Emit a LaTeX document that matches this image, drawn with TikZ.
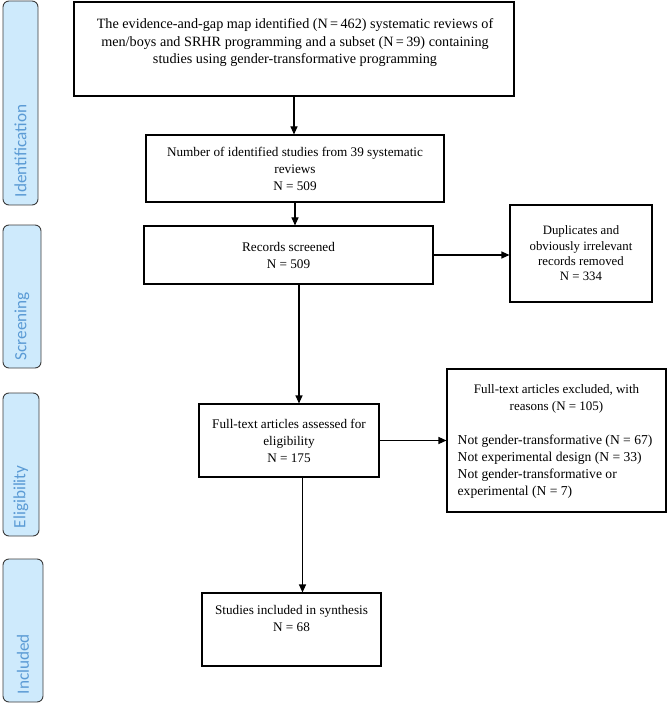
\documentclass[tikz,border=0pt]{standalone}
\usepackage{fontspec}
\setmainfont{Liberation Serif}
\newfontfamily\sidefont{Carlito}
\usetikzlibrary{arrows.meta,calc}
\definecolor{sidefill}{RGB}{206,234,252}
\definecolor{sidetext}{RGB}{91,155,213}
\definecolor{sideline}{RGB}{60,60,60}
\begin{document}
\begin{tikzpicture}[x=1pt,y=-1pt,
  box/.style={draw=black, line width=1.1pt, rectangle, inner sep=0pt, align=center,
    font=\rmfamily\fontsize{13.2}{17}\selectfont},
  txt/.style={inner sep=0pt, font=\rmfamily\fontsize{13.2}{17}\selectfont},
  side/.style={draw=sideline, fill=sidefill, rounded corners=6pt, line width=0.9pt, rectangle, inner sep=0pt},
  sidelabel/.style={rotate=90, anchor=west, text=sidetext, inner sep=0pt,
    font=\sidefont\fontsize{17.2}{18}\selectfont},
  arr/.style={line width=1.1pt, -{Triangle[length=8pt,width=7pt]}}]
\useasboundingbox (0,0) rectangle (669,703);

% side bars
\node[side, minimum width=35pt, minimum height=204pt] (sid) at (20.5,103) {};
\node[side, minimum width=38pt, minimum height=143pt] (ssc) at (22,296.5) {};
\node[side, minimum width=36pt, minimum height=143pt] (sel) at (21,464.5) {};
\node[side, minimum width=40pt, minimum height=143pt] (sin) at (23,630.5) {};
\node[sidelabel] (lid) at ([yshift=8pt]sid.south) {Identification};
\node[sidelabel] (lsc) at ([yshift=8pt]ssc.south) {Screening};
\node[sidelabel] (lel) at ([yshift=8pt]sel.south) {Eligibility};
\node[sidelabel] (lin) at ([yshift=8pt]sin.south) {Included};

% boxes
\node[box, minimum width=440pt, minimum height=94pt] (b1) at (294,49) {};
\node[txt, align=center, font=\rmfamily\fontsize{14.2}{17.5}\selectfont] (t1) at (295,43)
{The evidence-and-gap map identified (N\,=\,462) systematic reviews of\\
men/boys and SRHR programming and a subset (N\,=\,39) containing\\
studies using gender-transformative programming};

\node[box, minimum width=298pt, minimum height=67pt] (b2) at (295,168.5)
  {Number of identified studies from 39 systematic\\ reviews\\ N = 509};
\node[box, minimum width=289pt, minimum height=58pt] (b3) at (288.5,255)
  {Records screened\\ N = 509};
\node[box, minimum width=142pt, minimum height=97pt, font=\rmfamily\fontsize{12.8}{15.3}\selectfont] (dup) at (581,253.5)
  {Duplicates and\\ obviously irrelevant\\ records removed\\ N = 334};
\node[box, minimum width=180pt, minimum height=73pt] (b5) at (289,440.5)
  {Full-text articles assessed for\\ eligibility\\ N = 175};
\node[box, minimum width=219pt, minimum height=143pt] (exc) at (556.5,440.5) {};
\node[txt, align=center, font=\rmfamily\fontsize{13}{17}\selectfont] (et) at (556.5,398.5)
  {Full-text articles excluded, with\\ reasons (N = 105)};
\node[txt, align=left, anchor=west, font=\rmfamily\fontsize{13.6}{17}\selectfont] (el) at (457.5,467)
  {Not gender-transformative (N = 67)\\
Not experimental design (N = 33)\\
Not gender-transformative or\\
experimental (N = 7)};
\node[box, minimum width=179pt, minimum height=73pt] (b6) at (291.5,629.5)
  {Studies included in synthesis\\ N = 68\\[6pt]};

% arrows
\draw[arr] (b1.south) -- (b1.south |- b2.north);
\draw[arr] (b2.south) -- (b2.south |- b3.north);
\draw[arr] (b3.east) -- (b3.east -| dup.west);
\draw[arr] ([xshift=10.5pt]b3.south) -- ([xshift=10.5pt]b3.south |- b5.north);
\draw[arr] (b5.east) -- (b5.east -| exc.west);
\draw[arr] ([xshift=13.5pt]b5.south) -- ([xshift=13.5pt]b5.south |- b6.north);
\end{tikzpicture}
\end{document}
